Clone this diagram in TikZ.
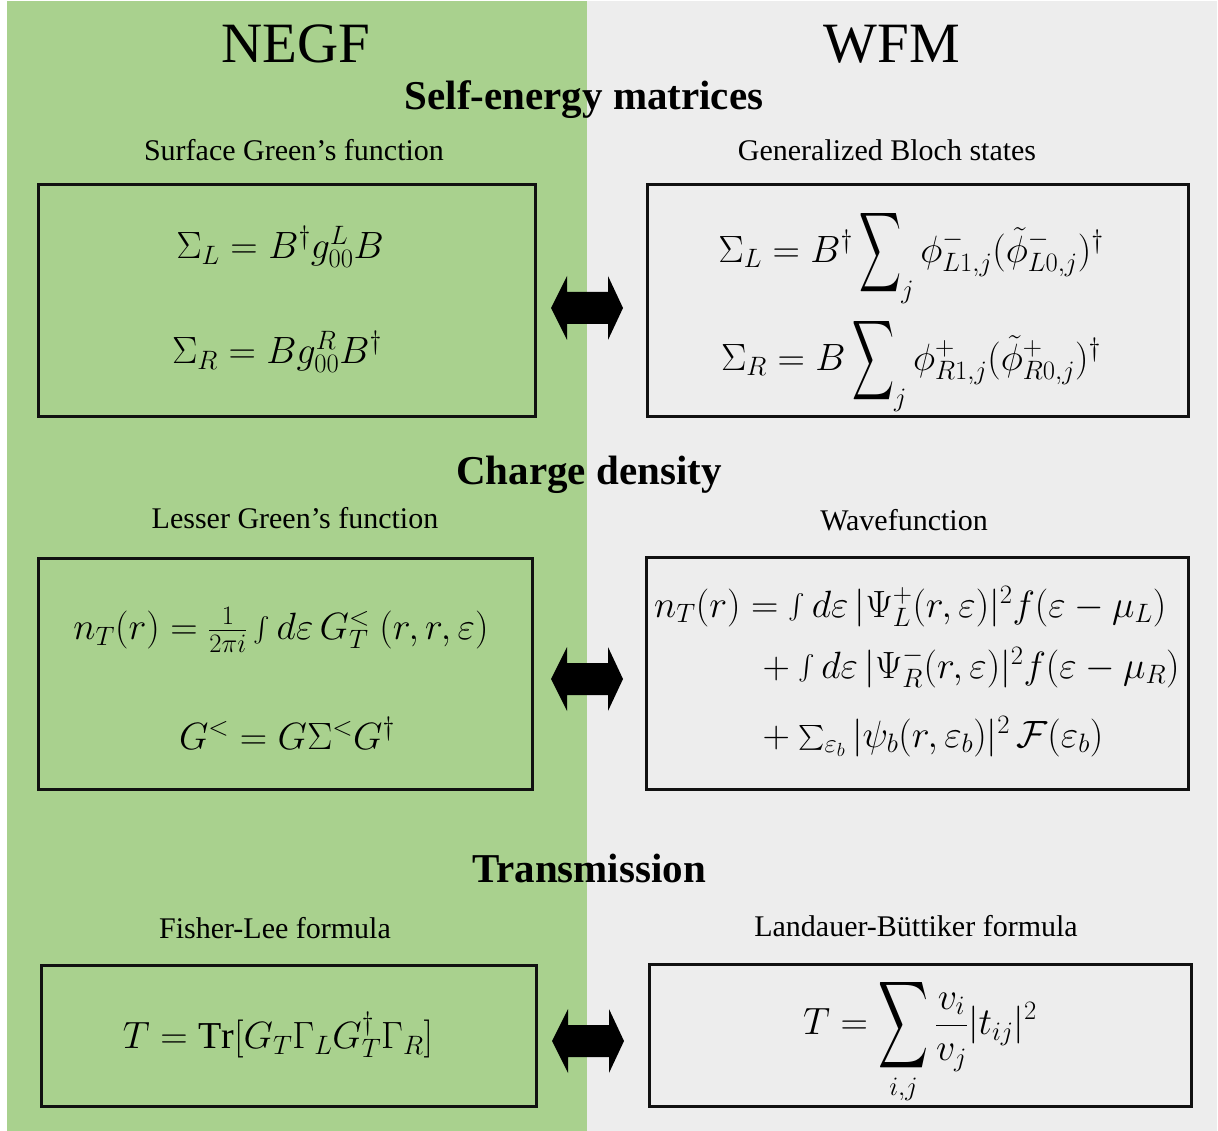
\RequirePackage{fix-cm}
\documentclass[tikz,border=0pt]{standalone}
\usepackage{amsmath}
\usepackage{exscale}
\usepackage{graphicx}
\usepackage{fontspec}
\setmainfont{Liberation Serif}
\definecolor{negfgreen}{HTML}{A9D18E}
\definecolor{wfmgray}{HTML}{EDEDED}
\definecolor{boxline}{HTML}{111111}
\newcommand{\HugeSumOp}[2]{\mathop{\vcenter{\hbox{\resizebox{#1}{#2}{$\displaystyle\sum$}}}}}
\tikzset{
  eqbox/.style={draw=boxline, line width=3pt, rectangle, inner sep=0pt},
  greenbox/.style={eqbox, fill=negfgreen},
  graybox/.style={eqbox, fill=wfmgray},
  bigtitle/.style={font=\fontsize{57}{60}\selectfont, inner sep=0pt},
  sectitle/.style={font=\fontsize{41}{44}\selectfont\bfseries, inner sep=0pt},
  subtitle/.style={font=\fontsize{30}{32}\selectfont, inner sep=0pt},
  eq/.style={font=\fontsize{38}{44}\selectfont, inner sep=0pt},
  dblarrow/.pic={\fill[black] (-36,0) -- (-20,-32) -- (-20,-16) -- (21,-16) -- (21,-32) -- (36,0) -- (21,32) -- (21,16) -- (-20,16) -- (-20,32) -- cycle;}
}
\begin{document}
\begin{tikzpicture}[x=1pt,y=-1pt]
\useasboundingbox (0,0) rectangle (1218,1131);
\fill[white] (0,0) rectangle (1218,1131);
\fill[negfgreen] (7,1) rectangle (587,1131);
\fill[wfmgray] (587,1) rectangle (1217,1131);

% titles
\node[bigtitle] (negf) at (296,44) {NEGF};
\node[bigtitle] (wfm) at (892,44) {WFM};
\node[sectitle] (sec1) at (584,100) {Self-energy matrices};
\node[sectitle] (sec2) at (589,475) {Charge density};
\node[sectitle] (sec3) at (589,868) {Transmission};

\node[subtitle] (sub1l) at (294,150) {Surface Green’s function};
\node[subtitle] (sub1r) at (887,150) {Generalized Bloch states};
\node[subtitle] (sub2l) at (295,518) {Lesser Green’s function};
\node[subtitle] (sub2r) at (904,520) {Wavefunction};
\node[subtitle] (sub3l) at (275,928) {Fisher-Lee formula};
\node[subtitle] (sub3r) at (916,926) {Landauer-Büttiker formula};

% boxes
\node[greenbox, minimum width=497pt, minimum height=231pt] (b1l) at (286.5,300.5) {};
\node[graybox, minimum width=541pt, minimum height=231pt] (b1r) at (917.5,300.5) {};
\node[greenbox, minimum width=494pt, minimum height=231pt] (b2l) at (285,673.5) {};
\node[graybox, minimum width=542pt, minimum height=232pt] (b2r) at (917,673) {};
\node[greenbox, minimum width=495pt, minimum height=141pt] (b3l) at (288.5,1035.5) {};
\node[graybox, minimum width=542pt, minimum height=142pt] (b3r) at (920,1035) {};

% equations
\node[eq] (e1l1) at (280,247) {$\Sigma_L = B^\dagger g_{00}^{L} B$};
\node[eq] (e1l2) at (277,352) {$\Sigma_R = B g_{00}^{R} B^\dagger$};
\node[eq] (e1r1) at (911,256) {$\Sigma_L = B^\dagger \HugeSumOp{42pt}{66pt}\nolimits_j \phi^-_{L1,j}(\tilde\phi^-_{L0,j})^\dagger$};
\node[eq] (e1r2) at (911,364) {$\Sigma_R = B \HugeSumOp{42pt}{66pt}\nolimits_j \phi^+_{R1,j}(\tilde\phi^+_{R0,j})^\dagger$};

\node[eq] (e2l1) at (281,630) {$n_T(r) = \frac{1}{2\pi i}\int d\varepsilon\, G^<_T\ (r,r,\varepsilon)$};
\node[eq] (e2l2) at (287,733) {$G^< = G\Sigma^< G^\dagger$};

\node[eq, anchor=base west] (e2r1) at (654,617) {$n_T(r) = \int d\varepsilon\, |\Psi^+_L(r,\varepsilon)|^2 f(\varepsilon-\mu_L)$};
\node[eq, anchor=base west] (e2r2) at (754,678) {${}+\int d\varepsilon\, |\Psi^-_R(r,\varepsilon)|^2 f(\varepsilon-\mu_R)$};
\node[eq, anchor=base west] (e2r3) at (754,747) {${}+\sum_{\varepsilon_b}|\psi_b(r,\varepsilon_b)|^2\,\mathcal{F}(\varepsilon_b)$};

\node[eq] (e3l) at (278,1035) {$T = \mathrm{Tr}[G_T\Gamma_L G_T^\dagger\Gamma_R]$};
\node[eq] (e3r) at (920,1040) {$\displaystyle T = \HugeSumOp{50pt}{72pt}_{i,j}\frac{v_i}{v_j}|t_{ij}|^2$};

% double arrows
\pic at (587,308) {dblarrow};
\pic at (587,679) {dblarrow};
\pic at (588,1041) {dblarrow};
\end{tikzpicture}
\end{document}
